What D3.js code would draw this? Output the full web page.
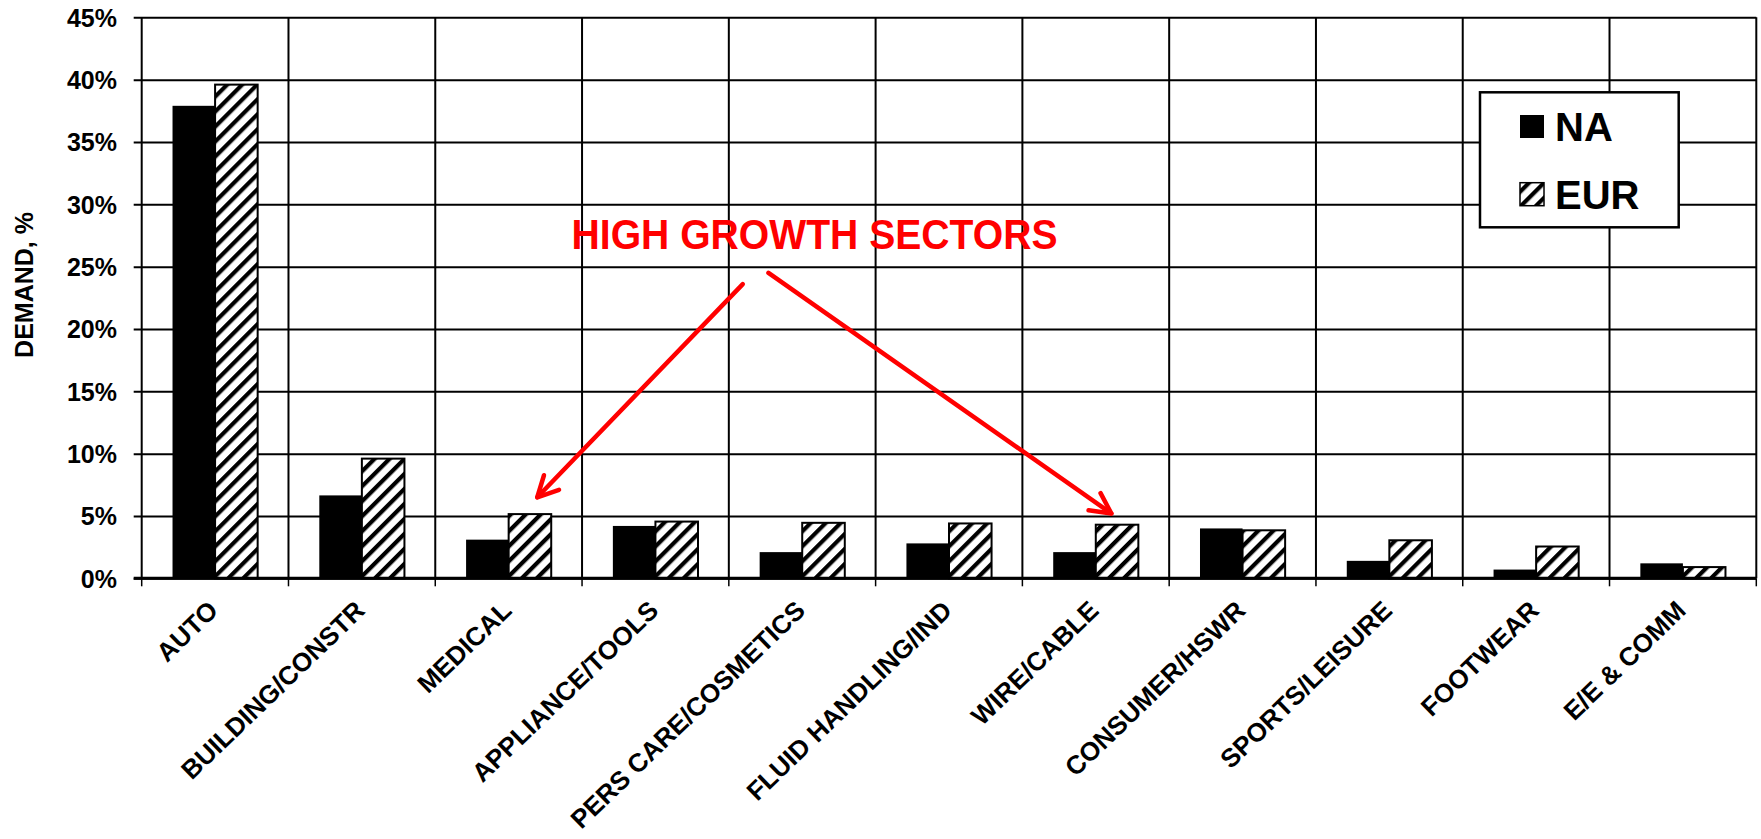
<!DOCTYPE html>
<html>
<head>
<meta charset="utf-8">
<script src="https://cdn.jsdelivr.net/npm/d3@7"></script>
<style>
  html, body { margin: 0; padding: 0; background: #fff; }
  svg { display: block; }
  text { font-family: "Liberation Sans", Arial, sans-serif; font-weight: bold; }
</style>
</head>
<body>
<svg id="chart" width="1761" height="839"></svg>
<script>
// ---------------- data ----------------
const categories = ["AUTO", "BUILDING/CONSTR", "MEDICAL", "APPLIANCE/TOOLS", "PERS CARE/COSMETICS",
  "FLUID HANDLING/IND", "WIRE/CABLE", "CONSUMER/HSWR", "SPORTS/LEISURE", "FOOTWEAR", "E/E & COMM"];
const seriesNames = ["NA", "EUR"];
const naValues  = [37.9, 6.65, 3.1, 4.2, 2.1, 2.8, 2.1, 4.0, 1.4, 0.7, 1.2];
const eurValues = [39.6, 9.6, 5.15, 4.55, 4.45, 4.4, 4.3, 3.85, 3.05, 2.55, 0.9];
const yTicks = [0, 5, 10, 15, 20, 25, 30, 35, 40, 45];
const yTitle = "DEMAND, %";
const annotationText = "HIGH GROWTH SECTORS";
// annotation positions in data units: [category-index position, value %]
const annotationTextPos = [4.584, 26.4];
const arrows = [
  { from: [4.095, 23.6], to: [2.695, 6.5] },
  { from: [4.27, 24.5], to: [6.606, 5.2] }
];

// ---------------- layout ----------------
const svg = d3.select("#chart");
const margin = { left: 141.7, top: 17.3 };
const width = 1614.6, height = 561;
const g = svg.append("g").attr("transform", `translate(${margin.left},${margin.top})`);

const x = d3.scaleBand().domain(categories).range([0, width]).padding(0);
const bw = x.bandwidth();
const x1 = d3.scaleBand().domain(seriesNames).range([bw * 0.21, bw * 0.79]).padding(0);
const xIdx = d3.scaleLinear().domain([0, categories.length]).range([0, width]);
const y = d3.scaleLinear().domain([0, 45]).range([height, 0]);

// hatch pattern
const defs = svg.append("defs");
const pat = defs.append("pattern")
  .attr("id", "hatch").attr("patternUnits", "userSpaceOnUse")
  .attr("width", 10.6).attr("height", 10.6)
  .attr("patternTransform", "rotate(45)");
pat.append("rect").attr("width", 10.6).attr("height", 10.6).attr("fill", "#fff");
pat.append("rect").attr("x", 0).attr("width", 4.2).attr("height", 10.6).attr("fill", "#000");

// horizontal grid + y axis
const yAxis = d3.axisLeft(y).tickValues(yTicks).tickFormat(d => d + "%")
  .tickSizeInner(-width).tickSizeOuter(0).tickPadding(0);
const ya = g.append("g").call(yAxis);
ya.select(".domain").remove();
ya.selectAll(".tick line").attr("x1", -8).attr("x2", width).attr("stroke", "#000").attr("stroke-width", 2);
ya.selectAll(".tick text")
  .attr("x", -24.7).attr("dy", "0.36em")
  .attr("font-size", 25).attr("fill", "#000")
  .attr("font-family", "Liberation Sans, Arial, sans-serif").attr("font-weight", "bold");

// vertical grid lines at category boundaries
const bounds = d3.range(categories.length + 1);
g.append("g").selectAll("line").data(bounds).join("line")
  .attr("x1", d => xIdx(d)).attr("x2", d => xIdx(d))
  .attr("y1", 0).attr("y2", height)
  .attr("stroke", "#000").attr("stroke-width", 2);
// small ticks below the baseline
g.append("g").selectAll("line").data(bounds).join("line")
  .attr("x1", d => xIdx(d)).attr("x2", d => xIdx(d))
  .attr("y1", height).attr("y2", height + 8)
  .attr("stroke", "#000").attr("stroke-width", 1.5);

// bars
const rows = categories.map((c, i) => ({ cat: c, NA: naValues[i], EUR: eurValues[i] }));
const groups = g.append("g").selectAll("g").data(rows).join("g")
  .attr("transform", d => `translate(${x(d.cat)},0)`);
groups.append("rect")
  .attr("x", x1("NA")).attr("width", x1.bandwidth())
  .attr("y", d => y(d.NA)).attr("height", d => y(0) - y(d.NA))
  .attr("fill", "#000");
groups.append("rect")
  .attr("x", x1("EUR")).attr("width", x1.bandwidth())
  .attr("y", d => y(d.EUR)).attr("height", d => y(0) - y(d.EUR))
  .attr("fill", "url(#hatch)").attr("stroke", "#000").attr("stroke-width", 2);

// baseline
g.append("line").attr("x1", -8).attr("x2", width).attr("y1", y(0)).attr("y2", y(0))
  .attr("stroke", "#000").attr("stroke-width", 3);

// x axis labels
const xAxis = d3.axisBottom(x).tickSize(0).tickPadding(0);
const xa = g.append("g").attr("transform", `translate(0,${height})`).call(xAxis);
xa.select(".domain").remove();
xa.selectAll(".tick text")
  .attr("x", 0).attr("y", 0).attr("dy", 0)
  .attr("text-anchor", "end")
  .attr("transform", "translate(4.5,34) rotate(-44)")
  .attr("font-size", 26).attr("fill", "#000")
  .attr("font-family", "Liberation Sans, Arial, sans-serif").attr("font-weight", "bold");

// y axis title
svg.append("text")
  .attr("transform", "translate(33,285) rotate(-90)")
  .attr("text-anchor", "middle").attr("font-size", 25).attr("fill", "#000")
  .text(yTitle);

// annotation text
g.append("text")
  .attr("x", xIdx(annotationTextPos[0])).attr("y", y(annotationTextPos[1]))
  .attr("text-anchor", "middle")
  .attr("font-family", "Lato, 'Open Sans', sans-serif").attr("font-weight", "bold")
  .attr("font-size", 43).attr("fill", "#ff0000")
  .attr("textLength", 486).attr("lengthAdjust", "spacingAndGlyphs")
  .text(annotationText);

// arrows
const ag = g.append("g").attr("stroke", "#ff0000").attr("stroke-width", 4.5)
  .attr("fill", "none").attr("stroke-linecap", "round").attr("stroke-linejoin", "round");
arrows.forEach(a => {
  const x0 = xIdx(a.from[0]), y0 = y(a.from[1]);
  const xt = xIdx(a.to[0]), yt = y(a.to[1]);
  ag.append("line").attr("x1", x0).attr("y1", y0).attr("x2", xt).attr("y2", yt);
  const ang = Math.atan2(y0 - yt, x0 - xt);
  const L = 23, spread = 27 * Math.PI / 180;
  const p1 = [xt + L * Math.cos(ang + spread), yt + L * Math.sin(ang + spread)];
  const p2 = [xt + L * Math.cos(ang - spread), yt + L * Math.sin(ang - spread)];
  ag.append("path").attr("d", `M${p1[0]},${p1[1]}L${xt},${yt}L${p2[0]},${p2[1]}`);
});

// legend
const lg = svg.append("g");
lg.append("rect").attr("x", 1480).attr("y", 92.3).attr("width", 198.7).attr("height", 135)
  .attr("fill", "#fff").attr("stroke", "#000").attr("stroke-width", 2.5);
const legendItems = [
  { name: "NA", fill: "#000", stroke: "none", y: 115 },
  { name: "EUR", fill: "url(#hatch)", stroke: "#000", y: 182.7 }
];
legendItems.forEach(it => {
  lg.append("rect").attr("x", 1520).attr("y", it.y).attr("width", 24).attr("height", 23)
    .attr("fill", it.fill).attr("stroke", it.stroke).attr("stroke-width", 1.5);
  lg.append("text").attr("x", 1555).attr("y", it.y + 26).attr("font-size", 40).attr("fill", "#000")
    .text(it.name);
});
</script>
</body>
</html>
